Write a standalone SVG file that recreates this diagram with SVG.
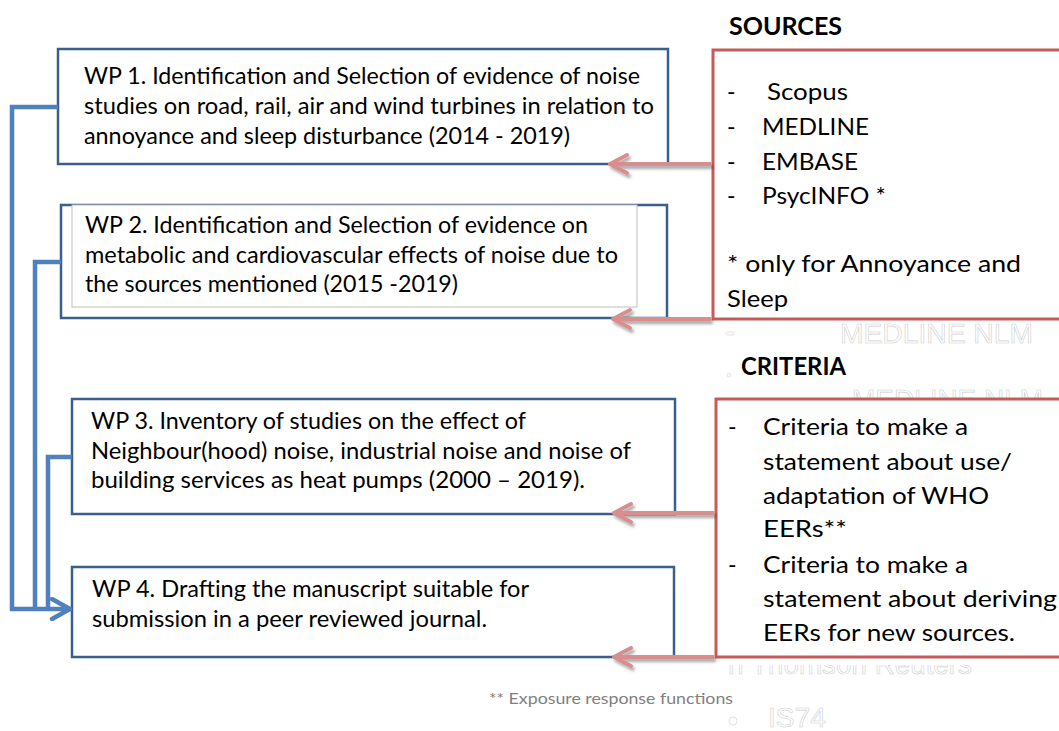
<svg xmlns="http://www.w3.org/2000/svg" width="1059" height="731" viewBox="0 0 1059 731">
<defs>
<style>
.box{fill:#fff;stroke:#3A5F8B;stroke-width:2.5}
.rbox{fill:#fff;stroke:#C65B5B;stroke-width:3}
.t{font-family:Lato,"Open Sans",sans-serif;font-size:23px;fill:#000}
.b{font-family:Lato,"Open Sans",sans-serif;font-size:24px;font-weight:bold;fill:#000}
.ghost{font-family:"Liberation Sans",Arial,sans-serif;font-size:28px;fill:#fff;stroke:#cfcfcf;stroke-width:0.6}
.blue{fill:none;stroke:#4F81BD;stroke-width:4.5}
.red{fill:none;stroke:#D88E8C;stroke-width:4}
.foot{font-family:Lato,"Open Sans",sans-serif;font-size:16px;fill:#808080}
</style>
<marker id="ba" viewBox="0 0 24 24" refX="21" refY="12" markerWidth="24" markerHeight="24" markerUnits="userSpaceOnUse" orient="auto">
<path d="M3,2 L21,12 L3,22" fill="none" stroke="#4F81BD" stroke-width="4.5" stroke-linecap="round" stroke-linejoin="round"/>
</marker>
<marker id="ra" viewBox="0 0 24 24" refX="21" refY="12" markerWidth="24" markerHeight="24" markerUnits="userSpaceOnUse" orient="auto">
<path d="M4,3 L21,12 L4,21" fill="none" stroke="#D88E8C" stroke-width="4" stroke-linecap="round" stroke-linejoin="round"/>
</marker>
<filter id="sh" x="-20%" y="-50%" width="140%" height="200%">
<feDropShadow dx="2" dy="3" stdDeviation="1.5" flood-color="#000" flood-opacity="0.35"/>
</filter>
<clipPath id="clipTR"><rect x="700" y="665" width="359" height="40"/></clipPath>
</defs>
<rect width="1059" height="731" fill="#fff"/>

<g id="ghost-text">
<text class="ghost" x="840" y="343" textLength="193" lengthAdjust="spacingAndGlyphs">MEDLINE NLM</text>
<rect x="726" y="332" width="8" height="3" rx="1.5" fill="#fff" stroke="#cfcfcf" stroke-width="0.6"/>
<circle cx="729" cy="375" r="2" fill="#fff" stroke="#cfcfcf" stroke-width="0.6"/>
<text class="ghost" x="852" y="409" textLength="191" lengthAdjust="spacingAndGlyphs">MEDLINE NLM</text>
<g clip-path="url(#clipTR)">
<text class="ghost" x="728" y="674">n</text>
<text class="ghost" x="751" y="674" textLength="221" lengthAdjust="spacingAndGlyphs">Thomson Reuters</text>
</g>
<circle cx="733" cy="721" r="4" fill="#fff" stroke="#cfcfcf" stroke-width="0.6"/>
<text class="ghost" x="768" y="727" textLength="58" lengthAdjust="spacingAndGlyphs">IS74</text>
</g>

<g id="wp1">
<rect class="box" x="58" y="49" width="610" height="115"/>
<text class="t" x="84" y="84" textLength="556" lengthAdjust="spacingAndGlyphs">WP 1. Identification and Selection of evidence of noise</text>
<text class="t" x="84" y="114" textLength="570" lengthAdjust="spacingAndGlyphs">studies on road, rail, air and wind turbines in relation to</text>
<text class="t" x="84" y="144" textLength="486" lengthAdjust="spacingAndGlyphs">annoyance and sleep disturbance (2014 - 2019)</text>
</g>

<g id="wp2">
<rect class="box" x="61" y="205" width="606" height="113"/>
<rect x="72" y="205" width="565" height="102" fill="#fff" stroke="#BFBFBF" stroke-width="1"/>
<text class="t" x="85" y="233" textLength="503" lengthAdjust="spacingAndGlyphs">WP 2. Identification and Selection of evidence on</text>
<text class="t" x="85" y="263" textLength="533" lengthAdjust="spacingAndGlyphs">metabolic and cardiovascular effects of noise due to</text>
<text class="t" x="85" y="292" textLength="373" lengthAdjust="spacingAndGlyphs">the sources mentioned (2015 -2019)</text>
</g>

<g id="wp3">
<rect class="box" x="72" y="399" width="603" height="115"/>
<text class="t" x="91" y="429" textLength="435" lengthAdjust="spacingAndGlyphs">WP 3. Inventory of studies on the effect of</text>
<text class="t" x="91" y="459" textLength="540" lengthAdjust="spacingAndGlyphs">Neighbour(hood)  noise, industrial noise and noise of</text>
<text class="t" x="91" y="488" textLength="494" lengthAdjust="spacingAndGlyphs">building services as heat pumps (2000 – 2019).</text>
</g>

<g id="wp4">
<rect class="box" x="72" y="567" width="602" height="90"/>
<text class="t" x="92" y="597" textLength="437" lengthAdjust="spacingAndGlyphs">WP 4.  Drafting the manuscript suitable for</text>
<text class="t" x="92" y="627" textLength="395" lengthAdjust="spacingAndGlyphs">submission in a peer reviewed journal.</text>
</g>

<g id="sources">
<text class="b" x="729" y="35" textLength="113" lengthAdjust="spacingAndGlyphs">SOURCES</text>
<rect class="rbox" x="713" y="50" width="360" height="269"/>
<text class="t" x="727" y="100">-</text>
<text class="t" x="767" y="100" textLength="81" lengthAdjust="spacingAndGlyphs">Scopus</text>
<text class="t" x="727" y="135">-</text>
<text class="t" x="762" y="135" textLength="107" lengthAdjust="spacingAndGlyphs">MEDLINE</text>
<text class="t" x="727" y="170">-</text>
<text class="t" x="762" y="170" textLength="96" lengthAdjust="spacingAndGlyphs">EMBASE</text>
<text class="t" x="727" y="204">-</text>
<text class="t" x="762" y="204" textLength="124" lengthAdjust="spacingAndGlyphs">PsycINFO *</text>
<text class="t" x="727" y="272" textLength="294" lengthAdjust="spacingAndGlyphs">* only for Annoyance and</text>
<text class="t" x="727" y="307" textLength="61" lengthAdjust="spacingAndGlyphs">Sleep</text>
</g>

<g id="criteria">
<text class="b" x="741" y="375" textLength="105" lengthAdjust="spacingAndGlyphs">CRITERIA</text>
<rect class="rbox" x="716" y="399" width="360" height="258"/>
<text class="t" x="728" y="435">-</text>
<text class="t" x="763" y="435" textLength="205" lengthAdjust="spacingAndGlyphs">Criteria to make a</text>
<text class="t" x="763" y="470" textLength="249" lengthAdjust="spacingAndGlyphs">statement about use/</text>
<text class="t" x="763" y="504" textLength="226" lengthAdjust="spacingAndGlyphs">adaptation of WHO</text>
<text class="t" x="763" y="537" textLength="84" lengthAdjust="spacingAndGlyphs">EERs**</text>
<text class="t" x="728" y="573">-</text>
<text class="t" x="763" y="573" textLength="205" lengthAdjust="spacingAndGlyphs">Criteria to make a</text>
<text class="t" x="763" y="607" textLength="294" lengthAdjust="spacingAndGlyphs">statement about deriving</text>
<text class="t" x="763" y="641" textLength="252" lengthAdjust="spacingAndGlyphs">EERs for new sources.</text>
</g>

<g id="connectors">
<path class="blue" d="M58,107 H12 V609 H70" marker-end="url(#ba)"/>
<path class="blue" d="M61,262 H35 V609"/>
<path class="blue" d="M72,457 H48 V609"/>
<g filter="url(#sh)">
<path class="red" d="M711,164 H610" marker-end="url(#ra)"/>
<path class="red" d="M711,319 H613" marker-end="url(#ra)"/>
<path class="red" d="M714,513 H614" marker-end="url(#ra)"/>
<path class="red" d="M714,657 H614" marker-end="url(#ra)"/>
</g>
</g>

<g id="footnote">
<text class="foot" x="489" y="704" textLength="244" lengthAdjust="spacingAndGlyphs">** Exposure response functions</text>
</g>
</svg>
